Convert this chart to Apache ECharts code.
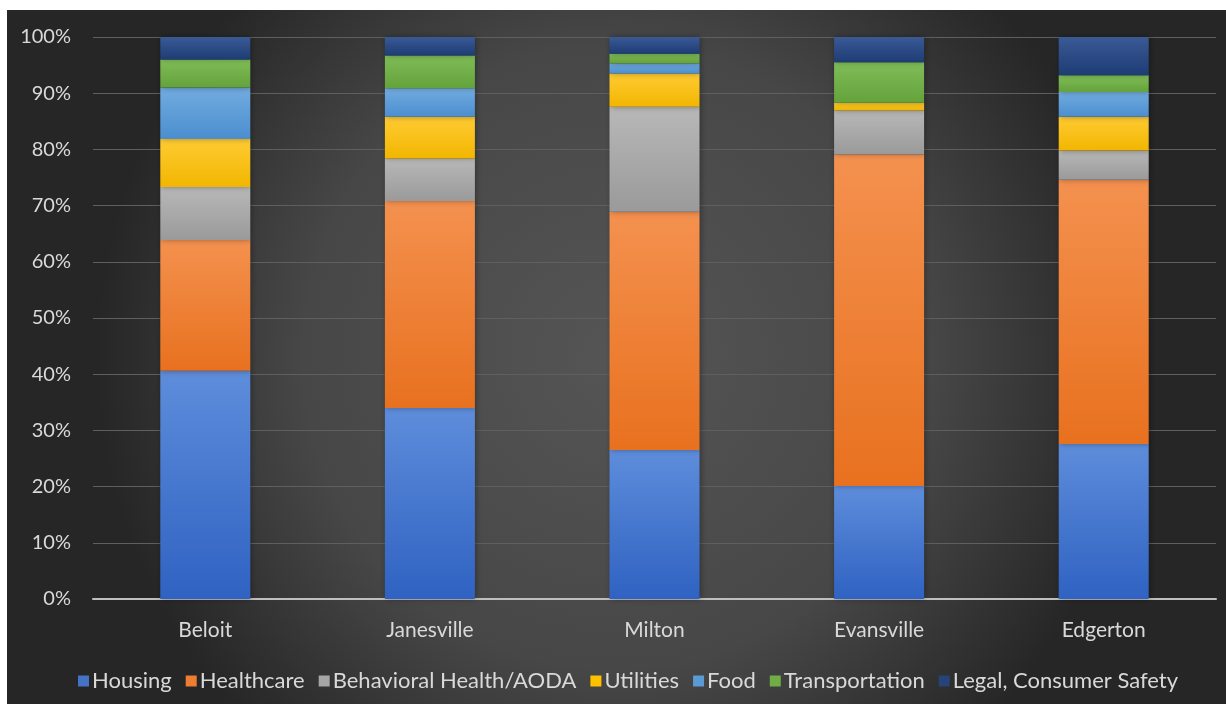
<!DOCTYPE html>
<html>
<head>
<meta charset="utf-8">
<script src="https://cdn.jsdelivr.net/npm/echarts@6/dist/echarts.min.js"></script>
<style>
  html, body { margin: 0; padding: 0; background: #ffffff; width: 1226px; height: 704px; overflow: hidden; }
  #chart { position: absolute; left: 7px; top: 10px; width: 1219px; height: 694px; }
</style>
</head>
<body>
<div id="chart"></div>
<script>
const categories = ['Beloit', 'Janesville', 'Milton', 'Evansville', 'Edgerton'];
const seriesNames = ['Housing', 'Healthcare', 'Behavioral Health/AODA', 'Utilities', 'Food', 'Transportation', 'Legal, Consumer Safety'];
const housing        = [40.6, 34.0, 26.5, 20.1, 27.6];
const healthcare     = [23.3, 36.8, 42.4, 59.0, 47.0];
const behavioral     = [9.4, 7.6, 18.7, 7.8, 5.2];
const utilities      = [8.55, 7.4, 5.9, 1.4, 6.0];
const food           = [9.15, 5.1, 1.8, 0, 4.4];
const transportation = [5.0, 5.8, 1.7, 7.2, 3.0];
const legal          = [4.0, 3.5, 3.0, 4.5, 6.8];
const yTicks = [0, 10, 20, 30, 40, 50, 60, 70, 80, 90, 100];

const values = [housing, healthcare, behavioral, utilities, food, transportation, legal];
const baseColors = ['#4472C4', '#ED7D31', '#A5A5A5', '#FFC000', '#5B9BD5', '#70AD47', '#264478'];
const topColors  = ['#5E8DDB', '#F4914F', '#B8B8B8', '#FFCB33', '#72ACE0', '#80BD58', '#3A5A96'];
const botColors  = ['#2F62C2', '#E8711F', '#9A9A9A', '#F2B600', '#4B8ECF', '#64A23C', '#1E3C74'];

const chart = echarts.init(document.getElementById('chart'));
const font = 'Lato, "Open Sans", sans-serif';

const series = seriesNames.map((name, i) => ({
  name: name,
  type: 'bar',
  stack: 'total',
  barWidth: 90,
  data: values[i],
  itemStyle: {
    color: new echarts.graphic.LinearGradient(0, 0, 0, 1, [
      { offset: 0, color: topColors[i] },
      { offset: 1, color: botColors[i] }
    ]),
    shadowColor: 'rgba(0,0,0,0.35)',
    shadowBlur: 6,
    shadowOffsetX: 1
  },
  emphasis: { disabled: true }
}));

chart.setOption({
  backgroundColor: {
    type: 'radial', x: 0.5, y: 0.5, r: 0.75,
    colorStops: [
      { offset: 0, color: '#555555' },
      { offset: 0.6, color: '#474747' },
      { offset: 1, color: '#262626' }
    ]
  },
  animation: false,
  textStyle: { fontFamily: font },
  grid: { left: 86, right: 10, top: 27, bottom: 105, containLabel: false },
  legend: {
    data: seriesNames.map((n, i) => ({ name: n, itemStyle: { color: baseColors[i] } })),
    bottom: 12,
    left: 71,
    padding: 0,
    icon: 'rect',
    itemWidth: 11,
    itemHeight: 11,
    itemGap: 14,
    textStyle: { color: '#D9D9D9', fontSize: 22, fontFamily: font, padding: [0, 0, 0, -2] }
  },
  xAxis: {
    type: 'category',
    data: categories,
    axisLine: { lineStyle: { color: '#BFBFBF', width: 2 } },
    axisTick: { show: false },
    axisLabel: { color: '#D9D9D9', fontSize: 21, margin: 21, fontFamily: font }
  },
  yAxis: {
    type: 'value',
    min: 0, max: 100, interval: 10,
    axisLine: { show: false },
    axisTick: { show: false },
    splitLine: { lineStyle: { color: '#5F5F5F', width: 1 } },
    axisLabel: {
      color: '#D9D9D9', fontSize: 20, margin: 22, fontFamily: font,
      formatter: v => (yTicks.indexOf(v) >= 0 ? v + '%' : '')
    }
  },
  series: series
});
</script>
</body>
</html>
